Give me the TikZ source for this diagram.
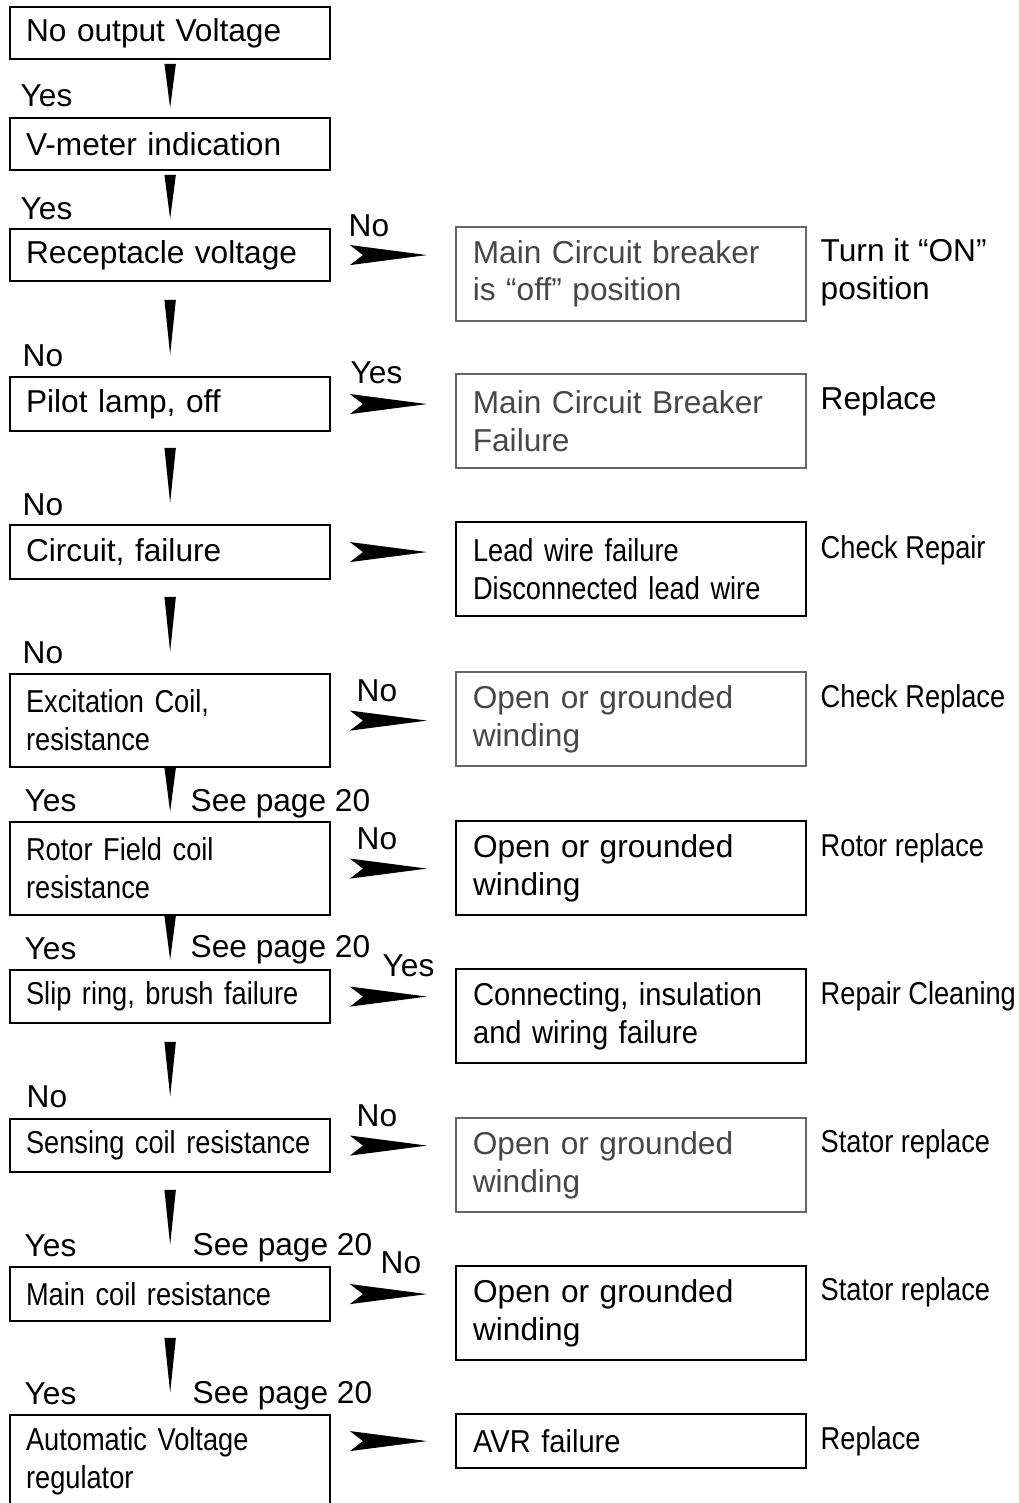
\documentclass[tikz,border=0pt]{standalone}
\usepackage{fontspec}
\setmainfont{Liberation Sans}
\newfontfamily\narrowsans[FakeStretch=0.86]{Liberation Sans}
\newfontfamily\semisans[FakeStretch=0.92]{Liberation Sans}
\usetikzlibrary{arrows.meta, calc}

\newcommand{\plainsize}{\fontsize{9}{10.8}\selectfont}
\newcommand{\narrowsize}{\narrowsans\fontsize{9}{10.8}\selectfont}
\newcommand{\semisize}{\semisans\fontsize{9}{10.8}\selectfont}

\tikzstyle{checkbox} = [rectangle, draw=black, line width=0.6pt, minimum width=3.2cm, text width=2.88cm, inner xsep=0.16cm, inner ysep=0pt, align=left, anchor=north west, font=\plainsize]
\tikzstyle{causebox} = [rectangle, draw=black, line width=0.6pt, minimum width=3.5cm, minimum height=0.94cm, text width=3.16cm, inner xsep=0.17cm, inner ysep=0pt, align=left, anchor=north west, font=\plainsize]
\tikzstyle{faded} = [draw=black!60, text=black!72, line width=0.45pt]
\tikzstyle{tag} = [anchor=base west, inner sep=0pt, font=\plainsize]
\tikzstyle{shortdrop} = [line width=0.4pt, -{Triangle[length=0.44cm, width=0.11cm]}, shorten <=0.08cm, shorten >=0.09cm]
\tikzstyle{longdrop} = [line width=0.4pt, -{Triangle[length=0.55cm, width=0.11cm]}, shorten <=0.22cm, shorten >=0.21cm]
\tikzstyle{sidearrow} = [line width=0.4pt, -{Stealth[length=0.77cm, width=0.2cm, inset=0.13cm]}, shorten <=0.4cm, shorten >=0.28cm]

\begin{document}
\begin{tikzpicture}[x=0.01cm, y=-0.01cm]
\useasboundingbox (0,0) rectangle (1018,1503);

% checks, left column
\node (novolt) [checkbox, minimum height=0.52cm] at (9,6) {No output Voltage};
\node (vmeter) [checkbox, minimum height=0.52cm] at (9,117) {V-meter indication};
\node (recept) [checkbox, minimum height=0.52cm] at (9,228) {Receptacle voltage};
\node (pilot) [checkbox, minimum height=0.54cm] at (9,376) {Pilot lamp, off};
\node (circuit) [checkbox, minimum height=0.54cm] at (9,524) {Circuit, failure};
\node (excite) [checkbox, minimum height=0.93cm, font=\narrowsize] at (9,673) {Excitation Coil,\\ resistance};
\node (rotor) [checkbox, minimum height=0.93cm, font=\narrowsize] at (9,821) {Rotor Field coil\\ resistance};
\node (slip) [checkbox, minimum height=0.53cm, font=\narrowsize] at (9,969) {\mbox{Slip ring, brush failure}};
\node (sensing) [checkbox, minimum height=0.53cm, font=\narrowsize] at (9,1118) {Sensing coil resistance};
\node (maincoil) [checkbox, minimum height=0.54cm, font=\narrowsize] at (9,1266) {Main coil resistance};
\node (avr) [checkbox, minimum height=0.93cm, font=\narrowsize] at (9,1414) {Automatic Voltage\\ regulator};

% causes, right column
\node (breakeroff) [causebox, faded] at (455,226) {Main Circuit breaker\\ is ``off'' position};
\node (breakerfail) [causebox, faded] at (455,373) {Main Circuit Breaker\\ Failure};
\node (leadwire) [causebox, font=\narrowsize] at (455,521) {Lead wire failure\\ Disconnected lead wire};
\node (excitewind) [causebox, faded] at (455,671) {Open or grounded\\ winding};
\node (rotorwind) [causebox] at (455,820) {Open or grounded\\ winding};
\node (slipfail) [causebox, font=\semisize] at (455,968) {Connecting, insulation\\ and wiring failure};
\node (sensewind) [causebox, faded] at (455,1117) {Open or grounded\\ winding};
\node (mainwind) [causebox] at (455,1265) {Open or grounded\\ winding};
\node (avrfail) [causebox, minimum height=0.54cm, font=\semisize] at (455,1413) {AVR failure};

% remedies
\node (turnon) [tag, align=left] at (820,299) {Turn it ``ON''\\ position};
\node (replace1) [tag] at (820,409) {Replace};
\node (checkrep) [tag, font=\narrowsize] at (820,558) {Check Repair};
\node (checkrpl) [tag, font=\narrowsize] at (820,707) {Check Replace};
\node (rotorrpl) [tag, font=\narrowsize] at (820,856) {Rotor replace};
\node (cleaning) [tag, font=\narrowsize] at (820,1004) {Repair Cleaning};
\node (stator1) [tag, font=\narrowsize] at (820,1152) {Stator replace};
\node (stator2) [tag, font=\narrowsize] at (820,1300) {Stator replace};
\node (replace2) [tag, font=\narrowsize] at (820,1449) {Replace};

% answers
\node [tag] at (20,107) {Yes};
\node [tag] at (20,219) {Yes};
\node [tag] at (22,366) {No};
\node [tag] at (22,515) {No};
\node [tag] at (22,663) {No};
\node [tag] at (24,811) {Yes};
\node [tag] at (24,959) {Yes};
\node [tag] at (26,1107) {No};
\node [tag] at (24,1256) {Yes};
\node [tag] at (24,1404) {Yes};
\node [tag] at (190,811) {See page 20};
\node [tag] at (190,957) {See page 20};
\node [tag] at (192,1255) {See page 20};
\node [tag] at (192,1403) {See page 20};
\node [tag] at (348,237) {No};
\node [tag] at (350,383) {Yes};
\node [tag] at (356,701) {No};
\node [tag] at (356,849) {No};
\node [tag] at (382,976) {Yes};
\node [tag] at (356,1126) {No};
\node [tag] at (380,1273) {No};

% downward arrows
\draw [shortdrop] (novolt) -- (vmeter);
\draw [shortdrop] (vmeter) -- (recept);
\draw [longdrop] (recept) -- (pilot);
\draw [longdrop] (pilot) -- (circuit);
\draw [longdrop] (circuit) -- (excite);
\draw [shortdrop] (excite) -- (rotor);
\draw [shortdrop] (rotor) -- (slip);
\draw [longdrop] (slip) -- (sensing);
\draw [longdrop] (sensing) -- (maincoil);
\draw [longdrop] (maincoil) -- (avr);

% side arrows
\draw [sidearrow] (recept.east) -- (recept.east -| breakeroff.west);
\draw [sidearrow] (pilot.east) -- (pilot.east -| breakerfail.west);
\draw [sidearrow] (circuit.east) -- (circuit.east -| leadwire.west);
\draw [sidearrow] (excite.east) -- (excite.east -| excitewind.west);
\draw [sidearrow] (rotor.east) -- (rotor.east -| rotorwind.west);
\draw [sidearrow] (slip.east) -- (slip.east -| slipfail.west);
\draw [sidearrow] (sensing.east) -- (sensing.east -| sensewind.west);
\draw [sidearrow] (maincoil.east) -- (maincoil.east -| mainwind.west);
\draw [sidearrow] (avrfail.west -| avr.east) -- (avrfail.west);
\end{tikzpicture}
\end{document}
